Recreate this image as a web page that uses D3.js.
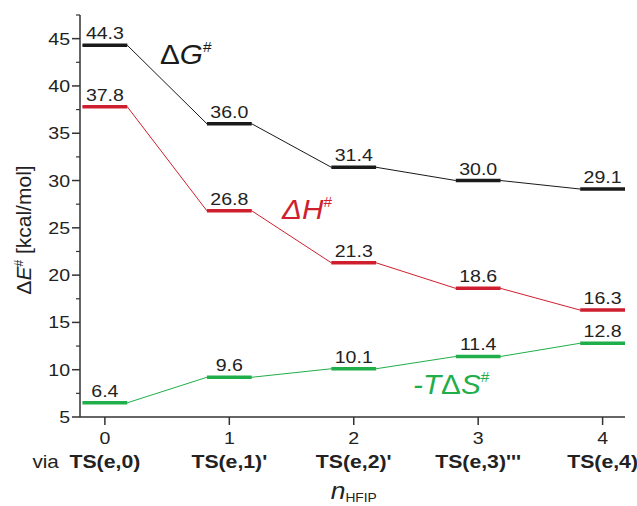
<!DOCTYPE html>
<html>
<head>
<meta charset="utf-8">
<script src="https://cdn.jsdelivr.net/npm/d3@7"></script>
<style>
  html, body { margin: 0; padding: 0; background: #fff; }
  svg text { font-family: "Liberation Sans", Arial, sans-serif; fill: #222; }
</style>
</head>
<body>
<div id="chart"></div>
<script>
// data
const nValues = [0, 1, 2, 3, 4];
const tsLabels = ["TS(e,0)", "TS(e,1)'", "TS(e,2)'", "TS(e,3)'''", "TS(e,4)"];
const dG = [44.3, 36.0, 31.4, 30.0, 29.1];
const dH = [37.8, 26.8, 21.3, 18.6, 16.3];
const tdS = [6.5, 9.2, 10.1, 11.4, 12.8];          // plotted levels
const tdSLabels = ["6.4", "9.6", "10.1", "11.4", "12.8"];
const yTicks = [5, 10, 15, 20, 25, 30, 35, 40, 45];

const W = 637, H = 506;
const halfBar = 0.18;

const svg = d3.select('#chart').append('svg')
    .attr('width', W)
    .attr('height', H);

const x = d3.scaleLinear().domain([-0.2, 4.18]).range([80, 625]);
const y = d3.scaleLinear().domain([5, 47.5]).range([417, 15]);

// helper for horizontally stretched text (the original type is wide)
function label(g, tx, ty, anchor, size, sx = 1.15) {
    return g.append('text')
        .attr('transform', `translate(${tx},${ty}) scale(${sx},1)`)
        .attr('text-anchor', anchor)
        .style('font-size', size + 'px');
}

// axes
const yAxis = svg.append('g').attr('transform', 'translate(80,0)');
yAxis.append('line')
    .attr('x1', 0).attr('x2', 0)
    .attr('y1', y(47.5)).attr('y2', y(5))
    .attr('stroke', '#333').attr('stroke-width', 1.5);
yAxis.selectAll('.minor')
    .data(d3.range(7.5, 48, 5))
    .enter().append('line')
        .attr('x1', -4).attr('x2', 0)
        .attr('y1', d => y(d)).attr('y2', d => y(d))
        .attr('stroke', '#333').attr('stroke-width', 1.2);
yAxis.selectAll('.major')
    .data(yTicks)
    .enter().append('line')
        .attr('x1', -8).attr('x2', 0)
        .attr('y1', d => y(d)).attr('y2', d => y(d))
        .attr('stroke', '#333').attr('stroke-width', 1.5);
yTicks.forEach(t => {
    label(yAxis, -10, y(t) + 6, 'end', 17).text(t);
});

const xAxis = svg.append('g').attr('transform', 'translate(0,417)');
xAxis.append('line')
    .attr('x1', 80).attr('x2', 625)
    .attr('y1', 0).attr('y2', 0)
    .attr('stroke', '#333').attr('stroke-width', 1.5);
xAxis.selectAll('.tick')
    .data(nValues)
    .enter().append('line')
        .attr('x1', d => x(d)).attr('x2', d => x(d))
        .attr('y1', 0).attr('y2', 8)
        .attr('stroke', '#333').attr('stroke-width', 1.5);
nValues.forEach((n, i) => {
    label(xAxis, x(n), 27, 'middle', 17).text(n);
    label(xAxis, x(n), 51, 'middle', 18, 1.18).style('font-weight', 'bold').text(tsLabels[i]);
});
label(xAxis, x(0) - 46, 51, 'end', 18).text('via');

// axis titles
const nt = label(svg, x(2), 499, 'middle', 23);
nt.append('tspan').style('font-style', 'italic').text('n');
nt.append('tspan').attr('dy', 3).style('font-size', '12px').text('HFIP');

const yt = svg.append('text')
    .attr('transform', 'translate(31,230) rotate(-90)')
    .attr('text-anchor', 'middle')
    .style('font-size', '21px');
yt.append('tspan').text('Δ');
yt.append('tspan').style('font-style', 'italic').text('E');
yt.append('tspan').attr('dy', -8).style('font-size', '12px').text('#');
yt.append('tspan').attr('dy', 8).text(' [kcal/mol]');

// level diagrams
const series = [
    { vals: dG, labels: dG.map(d => d.toFixed(1)), color: '#1a1a1a' },
    { vals: dH, labels: dH.map(d => d.toFixed(1)), color: '#cf1f2e' },
    { vals: tdS, labels: tdSLabels, color: '#1fae4a' }
];

series.forEach(s => {
    const g = svg.append('g');
    const pts = [];
    s.vals.forEach((v, i) => {
        pts.push([x(nValues[i] - halfBar), y(v)]);
        pts.push([x(nValues[i] + halfBar), y(v)]);
    });
    g.append('path')
        .attr('d', d3.line()(pts))
        .attr('fill', 'none')
        .attr('stroke', s.color)
        .attr('stroke-width', 1);
    g.selectAll('.bar')
        .data(s.vals)
        .enter().append('line')
            .attr('x1', (d, i) => x(nValues[i] - halfBar))
            .attr('x2', (d, i) => x(nValues[i] + halfBar))
            .attr('y1', d => y(d)).attr('y2', d => y(d))
            .attr('stroke', s.color)
            .attr('stroke-width', 3.5);
    s.vals.forEach((v, i) => {
        label(g, x(nValues[i]), y(v) - 6, 'middle', 17).text(s.labels[i]);
    });
});

// series names
function seriesName(tx, ty, color, parts) {
    const t = label(svg, tx, ty, 'start', 27, 1.1).style('fill', color);
    parts.forEach(p => {
        const ts = t.append('tspan').text(p.t).style('fill', color);
        if (p.it) ts.style('font-style', 'italic');
        if (p.sup) ts.attr('dy', -12).style('font-size', '14px');
    });
}
seriesName(160, 64, '#1a1a1a', [{ t: 'Δ' }, { t: 'G', it: true }, { t: '#', sup: true }]);
seriesName(282, 219, '#cf1f2e', [{ t: 'Δ', it: true }, { t: 'H', it: true }, { t: '#', sup: true }]);
seriesName(413, 394, '#1fae4a', [{ t: '-T', it: true }, { t: 'Δ' }, { t: 'S', it: true }, { t: '#', sup: true }]);
</script>
</body>
</html>
